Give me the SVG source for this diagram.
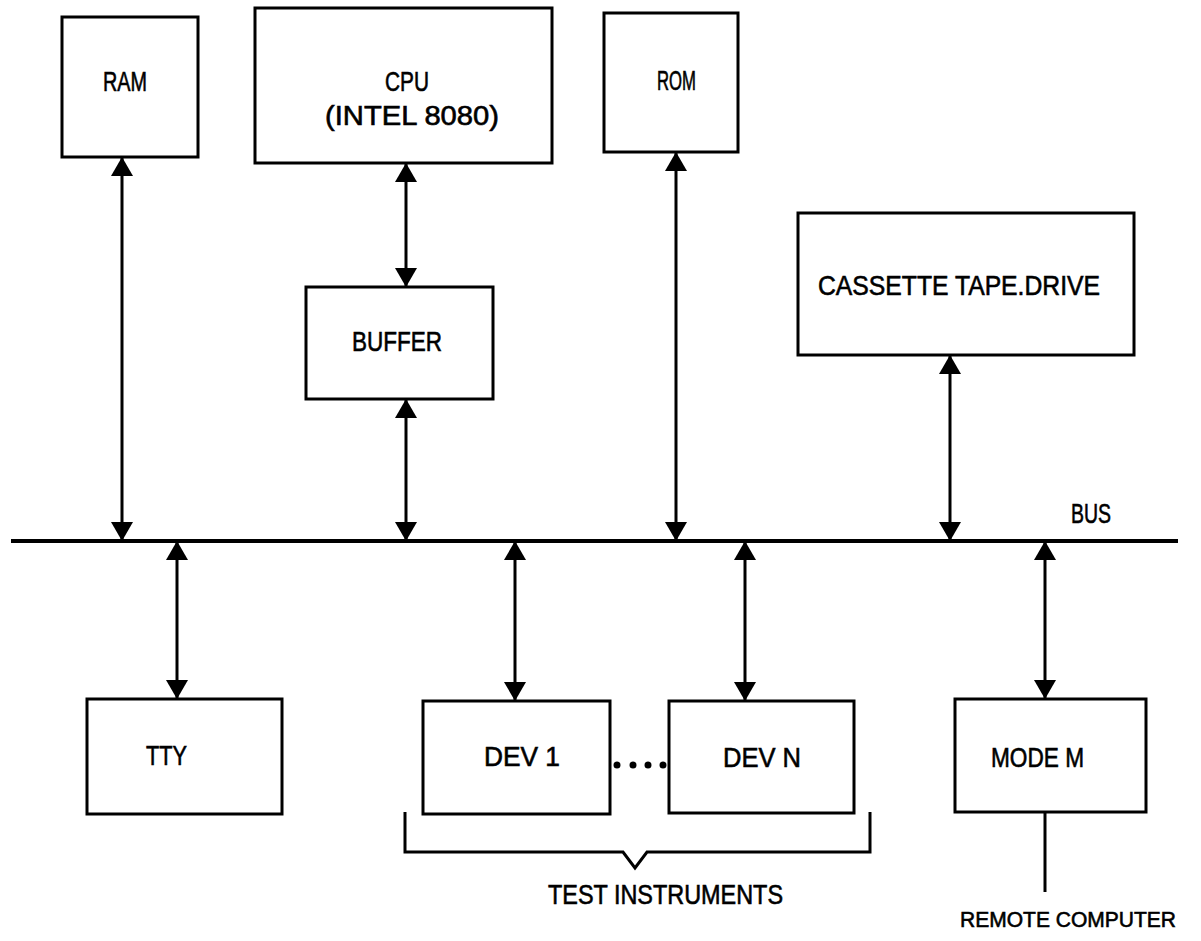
<svg xmlns="http://www.w3.org/2000/svg" width="1201" height="941" viewBox="0 0 1201 941">
<style>
.box{fill:none;stroke:#000;stroke-width:3}
.conn{stroke:#000;stroke-width:3;fill:none}
.lbl{font-family:"Liberation Sans",Arial,sans-serif;font-size:27px;fill:#000;stroke:#000;stroke-width:0.6}
.sm{font-size:22px}
</style>
<defs>
<marker id="ah" viewBox="0 0 19 22" refX="19" refY="11" markerWidth="19" markerHeight="22" markerUnits="userSpaceOnUse" orient="auto-start-reverse">
<path d="M0,0 L19,11 L0,22 z" fill="#000"/>
</marker>
</defs>
<rect width="1201" height="941" fill="#fff"/>
<g id="bus">
<line x1="11" y1="541" x2="1178" y2="541" stroke="#000" stroke-width="4"/>
<text class="lbl" x="1071" y="523" textLength="40" lengthAdjust="spacingAndGlyphs">BUS</text>
</g>
<g id="ram"><rect class="box" x="62" y="17" width="136" height="140"/><text class="lbl" x="103" y="91" textLength="44" lengthAdjust="spacingAndGlyphs">RAM</text></g>
<g id="cpu"><rect class="box" x="255" y="8" width="297" height="155"/><text class="lbl" x="385" y="91" textLength="44" lengthAdjust="spacingAndGlyphs">CPU</text><text class="lbl" x="325" y="125" textLength="174" lengthAdjust="spacingAndGlyphs">(INTEL 8080)</text></g>
<g id="rom"><rect class="box" x="604" y="13" width="134" height="139"/><text class="lbl" x="657" y="90" textLength="39" lengthAdjust="spacingAndGlyphs">ROM</text></g>
<g id="buffer"><rect class="box" x="306" y="287" width="187" height="112"/><text class="lbl" x="352" y="351" textLength="90" lengthAdjust="spacingAndGlyphs">BUFFER</text></g>
<g id="cassette"><rect class="box" x="798" y="213" width="336" height="142"/><text class="lbl" x="818" y="295" textLength="282" lengthAdjust="spacingAndGlyphs">CASSETTE TAPE.DRIVE</text></g>
<g id="tty"><rect class="box" x="87" y="699" width="195" height="115"/><text class="lbl" x="146" y="765" textLength="41" lengthAdjust="spacingAndGlyphs">TTY</text></g>
<g id="dev1"><rect class="box" x="423" y="701" width="187" height="113"/><text class="lbl" x="484" y="766" textLength="76" lengthAdjust="spacingAndGlyphs">DEV 1</text></g>
<g id="devn"><rect class="box" x="669" y="701" width="185" height="112"/><text class="lbl" x="723" y="767" textLength="78" lengthAdjust="spacingAndGlyphs">DEV N</text></g>
<g id="modem"><rect class="box" x="955" y="699" width="191" height="113"/><text class="lbl" x="991" y="767" textLength="93" lengthAdjust="spacingAndGlyphs">MODE M</text></g>
<g id="test-instruments">
<circle cx="617" cy="765" r="3.5"/><circle cx="633" cy="765" r="3.5"/><circle cx="648" cy="765" r="3.5"/><circle cx="663" cy="765" r="3.5"/>
<path class="conn" d="M405,812 V852 H623 L635,868 L647,852 H870 V812"/>
<text class="lbl" x="548" y="904" textLength="235" lengthAdjust="spacingAndGlyphs">TEST INSTRUMENTS</text>
</g>
<g id="remote-computer"><text class="lbl sm" x="960" y="927" textLength="216" lengthAdjust="spacingAndGlyphs">REMOTE COMPUTER</text></g>
<g id="connectors">
<line class="conn" x1="122" y1="157" x2="122" y2="541" marker-start="url(#ah)" marker-end="url(#ah)"/>
<line class="conn" x1="406" y1="163" x2="406" y2="287" marker-start="url(#ah)" marker-end="url(#ah)"/>
<line class="conn" x1="406" y1="399" x2="406" y2="541" marker-start="url(#ah)" marker-end="url(#ah)"/>
<line class="conn" x1="676" y1="152" x2="676" y2="541" marker-start="url(#ah)" marker-end="url(#ah)"/>
<line class="conn" x1="950" y1="355" x2="950" y2="541" marker-start="url(#ah)" marker-end="url(#ah)"/>
<line class="conn" x1="177" y1="541" x2="177" y2="699" marker-start="url(#ah)" marker-end="url(#ah)"/>
<line class="conn" x1="515" y1="541" x2="515" y2="701" marker-start="url(#ah)" marker-end="url(#ah)"/>
<line class="conn" x1="745" y1="541" x2="745" y2="701" marker-start="url(#ah)" marker-end="url(#ah)"/>
<line class="conn" x1="1045" y1="541" x2="1045" y2="699" marker-start="url(#ah)" marker-end="url(#ah)"/>
<line class="conn" x1="1045" y1="812" x2="1045" y2="892"/>
</g>
</svg>
